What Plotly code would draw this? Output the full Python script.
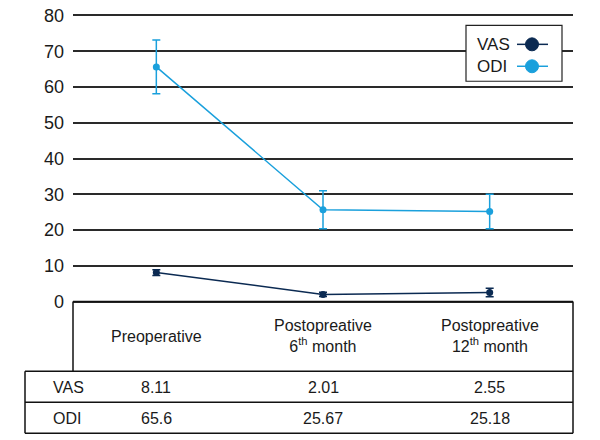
import plotly.graph_objects as go

# ---------------- data ----------------
categories = ["Preoperative", "Postopreative 6th month", "Postopreative 12th month"]
header_labels = ["Preoperative", "Postopreative<br>6<sup>th</sup> month", "Postopreative<br>12<sup>th</sup> month"]
vas_mean = [8.11, 2.01, 2.55]
vas_sd = [0.8, 0.6, 1.2]
odi_mean = [65.6, 25.67, 25.18]
odi_sd = [7.5, 5.3, 4.8]
vas_text = ["8.11", "2.01", "2.55"]
odi_text = ["65.6", "25.67", "25.18"]
y_ticks = [0, 10, 20, 30, 40, 50, 60, 70, 80]

# ---------------- style ----------------
VAS_C = "#0b2a52"
ODI_C = "#1aa0dc"
FONT = "Liberation Sans Narrow, Liberation Sans, Arial, sans-serif"
FS = 16
W, H = 600, 440
OFF = 8  # page body margin offset
Y0_PIX, Y80_PIX = 302, 15       # page pixels of value 0 and 80
PAD = 0.4                       # small range padding so the 80 gridline is drawn
SCALE = (Y0_PIX - Y80_PIX) / 80.0
PL, PW = 73, 500
PT = Y80_PIX - PAD * SCALE
PH = (80 + 2 * PAD) * SCALE
L = PL - OFF
T = PT - OFF
R = W - L - PW
B = H - T - PH

def px(x):
    return (x - PL) / PW

def py(y):
    return (PT + PH - y) / PH

fig = go.Figure()
fig.add_trace(go.Scatter(
    x=categories, y=odi_mean, mode="lines+markers", name="ODI",
    line=dict(color=ODI_C, width=1.5), marker=dict(color=ODI_C, size=7),
    error_y=dict(type="data", array=odi_sd, color=ODI_C, thickness=1.5, width=4),
    showlegend=False))
fig.add_trace(go.Scatter(
    x=categories, y=vas_mean, mode="lines+markers", name="VAS",
    line=dict(color=VAS_C, width=1.5), marker=dict(color=VAS_C, size=7),
    error_y=dict(type="data", array=vas_sd, color=VAS_C, thickness=1.5, width=4),
    showlegend=False))

shapes = []
ann = []
line_k = dict(color="#111", width=1.5)

# table lines
shapes.append(dict(type="line", xref="paper", yref="paper", x0=px(73), x1=px(573), y0=py(302), y1=py(302), line=line_k))
shapes.append(dict(type="line", xref="paper", yref="paper", x0=px(73), x1=px(73), y0=py(302), y1=py(372), line=line_k))
shapes.append(dict(type="line", xref="paper", yref="paper", x0=px(573), x1=px(573), y0=py(302), y1=py(434), line=line_k))
for yy in (372, 403, 434):
    shapes.append(dict(type="line", xref="paper", yref="paper", x0=px(25), x1=px(573), y0=py(yy), y1=py(yy), line=line_k))
shapes.append(dict(type="line", xref="paper", yref="paper", x0=px(25), x1=px(25), y0=py(372), y1=py(434), line=line_k))

tfont = dict(family=FONT, size=FS, color="#1a1a1a")
for c, h in zip(categories, header_labels):
    ann.append(dict(x=c, xref="x", y=py(337), yref="paper", text=h, showarrow=False,
                    font=tfont, align="center", yanchor="middle"))
for c, t in zip(categories, vas_text):
    ann.append(dict(x=c, xref="x", y=py(388), yref="paper", text=t, showarrow=False,
                    font=tfont, yanchor="middle"))
for c, t in zip(categories, odi_text):
    ann.append(dict(x=c, xref="x", y=py(419), yref="paper", text=t, showarrow=False,
                    font=tfont, yanchor="middle"))
ann.append(dict(x=px(51), xref="paper", y=py(388), yref="paper", text="VAS", showarrow=False,
                font=tfont, xanchor="left", yanchor="middle"))
ann.append(dict(x=px(51), xref="paper", y=py(419), yref="paper", text="ODI", showarrow=False,
                font=tfont, xanchor="left", yanchor="middle"))

# legend box
shapes.append(dict(type="rect", xref="paper", yref="paper", x0=px(466), x1=px(562), y0=py(25), y1=py(81),
                   line=dict(color="#222", width=1.2), fillcolor="white"))
for yy, name, col in ((44, "VAS", VAS_C), (66, "ODI", ODI_C)):
    ann.append(dict(x=px(475), xref="paper", y=py(yy), yref="paper", text=name, showarrow=False,
                    font=dict(family=FONT, size=17, color="#1a1a1a"), xanchor="left", yanchor="middle"))
    shapes.append(dict(type="line", xref="paper", yref="paper", x0=px(517), x1=px(548), y0=py(yy), y1=py(yy),
                       line=dict(color=col, width=1.5)))
    shapes.append(dict(type="circle", xref="paper", yref="paper", x0=px(525.5), x1=px(538.5),
                       y0=py(yy - 6.5), y1=py(yy + 6.5), line=dict(color=col, width=1), fillcolor=col))

fig.update_layout(
    width=W, height=H, margin=dict(l=L, r=R, t=T, b=B, autoexpand=False),
    paper_bgcolor="white", plot_bgcolor="white",
    font=dict(family=FONT, size=FS, color="#1a1a1a"),
    shapes=shapes, annotations=ann, showlegend=False,
    xaxis=dict(type="category", range=[-0.5, 2.5], showticklabels=False, showgrid=False,
               showline=False, zeroline=False, fixedrange=True, automargin=False),
    yaxis=dict(range=[-PAD, 80 + PAD], tickvals=y_ticks, showgrid=True, gridcolor="#2a2a2a", gridwidth=1.5,
               zeroline=False, showline=False, ticks="", ticklabelstandoff=8, automargin=False,
               ticklabeloverflow="allow",
               tickfont=dict(family=FONT, size=18, color="#1a1a1a")),
)
fig.write_html("out.html")
